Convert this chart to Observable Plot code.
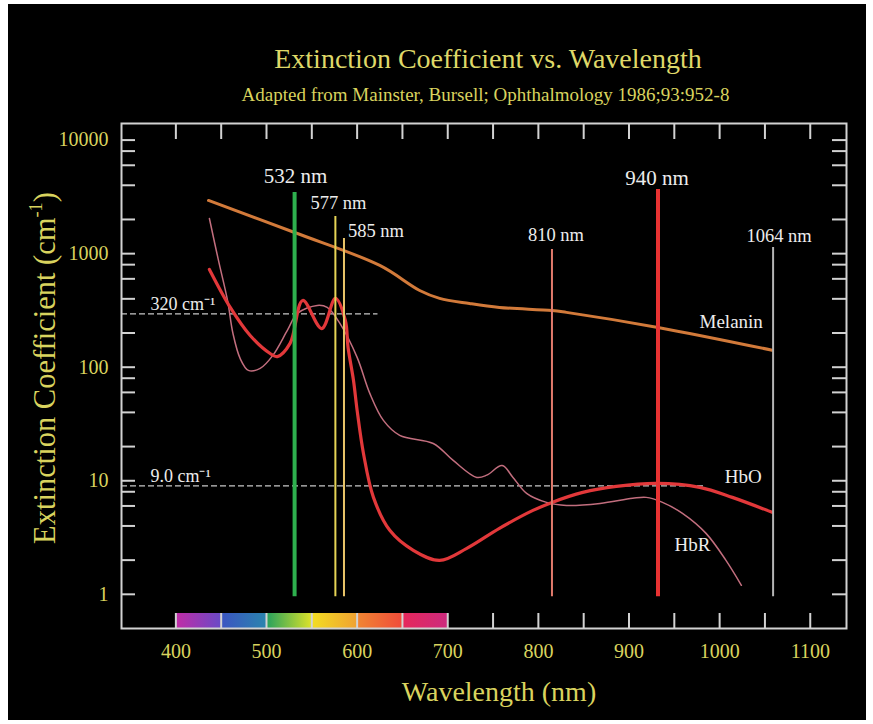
<!DOCTYPE html>
<html>
<head>
<meta charset="utf-8">
<script src="https://cdn.jsdelivr.net/npm/d3@7"></script>
<script src="https://cdn.jsdelivr.net/npm/@observablehq/plot@0.6"></script>
<style>
html, body { margin:0; padding:0; width:873px; height:724px; overflow:hidden; background:#fff; font-family:"Liberation Serif","Times New Roman",serif; }
#panel { position:absolute; left:8px; top:4px; width:858px; height:716px; background:#000; }
.t { position:absolute; white-space:nowrap; text-align:center; }
#title { left:0; width:976px; top:45px; font-size:28px; line-height:28px; color:#dfd868; }
#subtitle { left:0; width:971px; top:85px; font-size:19px; line-height:19px; color:#d9d35e; }
#ylabel { left:-155px; width:400px; top:350px; height:36px; line-height:36px; font-size:30.5px; color:#d9d35e; transform:rotate(-90deg); }
#xlabel { left:0; width:998px; top:678px; font-size:28px; line-height:28px; color:#d9d35e; }
#chart { position:absolute; left:0; top:110px; }
sup { font-size:0.6em; line-height:0; vertical-align:0.7em; }
</style>
</head>
<body>
<div id="panel"></div>
<div class="t" id="title">Extinction Coefficient vs. Wavelength</div>
<div class="t" id="subtitle">Adapted from Mainster, Bursell; Ophthalmology 1986;93:952-8</div>
<div class="t" id="ylabel">Extinction Coefficient (cm<sup>-1</sup>)</div>
<div class="t" id="xlabel">Wavelength (nm)</div>
<div id="chart"></div>
<script>
// ---- data ----
const xDomain = [340, 1140];
const yDomain = [0.5, 14000];
const wavelengthTicks = [400, 500, 600, 700, 800, 900, 1000, 1100];
const wavelengthMinor = [400, 450, 500, 550, 600, 650, 700, 750, 800, 850, 900, 950, 1000, 1050, 1100];
const coefTicks = [1, 10, 100, 1000, 10000];
const coefMinor = [2, 4, 6, 8, 20, 40, 60, 80, 200, 400, 600, 800, 2000, 4000, 6000, 8000];

const melaninNm   = [436, 531, 625, 669, 691, 724, 757, 815, 831, 932, 1058];
const melaninCoef = [2940, 1535, 787, 474, 404, 364, 336, 316, 304, 224, 141];

const hboNm   = [437, 460, 482, 504, 512, 526, 540, 561, 576, 587, 590, 596, 600, 607, 618, 636, 662, 691, 721, 757, 794, 815, 849, 886, 931, 978, 1014, 1058];
const hboCoef = [726, 336, 190, 132, 124, 162, 387, 219, 403, 258, 149, 76.5, 41.7, 17.4, 7.14, 3.66, 2.44, 1.99, 2.54, 3.81, 5.48, 6.45, 7.90, 8.92, 9.48, 8.75, 7.14, 5.27];

const hbrNm   = [437, 447, 457, 463, 471, 480, 493, 507, 523, 534, 556, 567, 581, 600, 614, 629, 647, 684, 706, 732, 743, 760, 772, 787, 809, 831, 868, 904, 919, 937, 959, 985, 1007, 1024];
const hbrCoef = [2040, 871, 387, 198, 119, 93.7, 97.5, 127, 211, 297, 350, 336, 243, 122, 58.8, 34.0, 25.1, 21.3, 15.1, 10.7, 11.2, 13.6, 10.7, 7.74, 6.45, 6.07, 6.32, 7.0, 7.14, 6.45, 5.16, 3.44, 1.99, 1.20];

const laserLabels = ["532 nm", "577 nm", "585 nm", "810 nm", "940 nm", "1064 nm"];
const laserNm     = [531, 576, 585.5, 815, 932, 1059];
const laserTop    = [3460, 2125, 1360, 1090, 3670, 1130];
const laserBottom = 0.95;

const refLabels = ["320 cm\u207B\u00B9", "9.0 cm\u207B\u00B9"];
const refValues = [295, 9];
const refEnds   = [623, 983];

const spectrumNm     = [400, 450, 450, 500, 500, 550, 550, 600, 600, 650, 650, 700];
const spectrumColors = ["#c22ca6", "#6a4ac6", "#3c54c2", "#2a84ae", "#24a05e", "#dce22a",
                        "#f2de22", "#f0a232", "#f08632", "#f04c3a", "#e6285a", "#cc2a7e"];

// ---- build tables ----
const toRows = (nm, v) => nm.map((d, i) => ({nm: d, v: v[i]}));
const melanin = toRows(melaninNm, melaninCoef);
const hbo = toRows(hboNm, hboCoef);
const hbr = toRows(hbrNm, hbrCoef);
const lasers = laserLabels.map((label, i) => ({label, nm: laserNm[i], top: laserTop[i]}));
const refs = refLabels.map((label, i) => ({label, v: refValues[i], end: refEnds[i]}));

// ---- styles ----
const W = 873, H = 614, ML = 121, MR = 27, MT = 13, MB = 96;
const FW = W - ML - MR, FH = H - MT - MB;
const tickColor = "#d2d2d2";
const annColor = "#ececec";
const laserStyle = {
  "532 nm":  {stroke: "#2eb04e", w: 4, dx: 1,  dy: -16, size: 21, anchor: "middle"},
  "577 nm":  {stroke: "#e6d456", w: 2, dx: 3,  dy: -13, size: 18.5, anchor: "middle"},
  "585 nm":  {stroke: "#e8c468", w: 2, dx: 4,  dy: -7,  size: 18.5, anchor: "start"},
  "810 nm":  {stroke: "#e07a6c", w: 2, dx: 4,  dy: -14, size: 18.5, anchor: "middle"},
  "940 nm":  {stroke: "#e83232", w: 4, dx: -1, dy: -11, size: 21, anchor: "middle"},
  "1064 nm": {stroke: "#b4b4b4", w: 2, dx: 6,  dy: -12, size: 18.5, anchor: "middle"}
};

const defsMark = () => {
  const defs = d3.create("svg:defs");
  const g = defs.append("linearGradient").attr("id", "spectrumGrad")
    .attr("x1", 0).attr("x2", 1).attr("y1", 0).attr("y2", 0);
  const lo = spectrumNm[0], hi = spectrumNm[spectrumNm.length - 1];
  spectrumNm.forEach((nm, i) => {
    g.append("stop").attr("offset", (nm - lo) / (hi - lo)).attr("stop-color", spectrumColors[i]);
  });
  return defs.node();
};

const laserMarks = lasers.flatMap(d => {
  const s = laserStyle[d.label];
  return [
    Plot.ruleX([d], {x: "nm", y1: laserBottom, y2: "top", stroke: s.stroke, strokeWidth: s.w}),
    Plot.text([d], {x: "nm", y: "top", text: "label", dx: s.dx, dy: s.dy, fontSize: s.size,
                    textAnchor: s.anchor, fill: annColor})
  ];
});

const chart = Plot.plot({
  width: W, height: H,
  marginLeft: ML, marginRight: MR, marginTop: MT, marginBottom: MB,
  x: {domain: xDomain},
  y: {type: "log", domain: yDomain},
  style: {background: "transparent", color: "#d9d35e", fontFamily: "Liberation Serif, serif"},
  marks: [
    defsMark,
    Plot.rect([{x1: spectrumNm[0], x2: spectrumNm[spectrumNm.length - 1]}],
      {x1: "x1", x2: "x2", insetTop: FH - 15, fill: "url(#spectrumGrad)"}),
    Plot.ruleY(refs, {y: "v", x1: xDomain[0], x2: "end", stroke: "#c8c8c8", strokeWidth: 1.2, strokeDasharray: "6,3"}),
    Plot.text(refs, {x: xDomain[0], y: "v", text: "label", textAnchor: "start", dx: 29, dy: -10, fontSize: 18, fill: annColor}),
    Plot.line(hbr, {x: "nm", y: "v", curve: "catmull-rom", stroke: "#c26e7e", strokeWidth: 1.5}),
    Plot.line(melanin, {x: "nm", y: "v", curve: "catmull-rom", stroke: "#d27a3a", strokeWidth: 3}),
    Plot.line(hbo, {x: "nm", y: "v", curve: "catmull-rom", stroke: "#e2383a", strokeWidth: 3.2}),
    ...laserMarks,
    Plot.text(melanin, Plot.selectLast({x: "nm", y: "v", text: () => "Melanin", dx: -41, dy: -28, fontSize: 19, fill: annColor})),
    Plot.text(hbo, Plot.selectLast({x: "nm", y: "v", text: () => "HbO", dx: -29, dy: -35, fontSize: 19, fill: annColor})),
    Plot.text(hbr, Plot.selectLast({x: "nm", y: "v", text: () => "HbR", dx: -49, dy: -40, fontSize: 19, fill: annColor})),
    // inward ticks
    Plot.ruleY(coefTicks.concat(coefMinor), {y: d => d, insetRight: FW - 14, stroke: tickColor, strokeWidth: 2}),
    Plot.ruleY(coefTicks.concat(coefMinor), {y: d => d, insetLeft: FW - 14, stroke: tickColor, strokeWidth: 2}),
    Plot.ruleX(wavelengthMinor, {x: d => d, insetTop: FH - 15, stroke: tickColor, strokeWidth: 2}),
    Plot.ruleX(wavelengthMinor, {x: d => d, insetBottom: FH - 16, stroke: tickColor, strokeWidth: 2}),
    Plot.frame({stroke: tickColor, strokeWidth: 2}),
    Plot.axisX({ticks: wavelengthTicks, tickSize: 0, tickPadding: 15, fontSize: 20, label: null, tickFormat: d => String(d)}),
    Plot.axisY({ticks: coefTicks, tickSize: 0, tickPadding: 13, fontSize: 20, label: null, tickFormat: d => String(d)})
  ]
});
document.getElementById("chart").appendChild(chart);
</script>
</body>
</html>
